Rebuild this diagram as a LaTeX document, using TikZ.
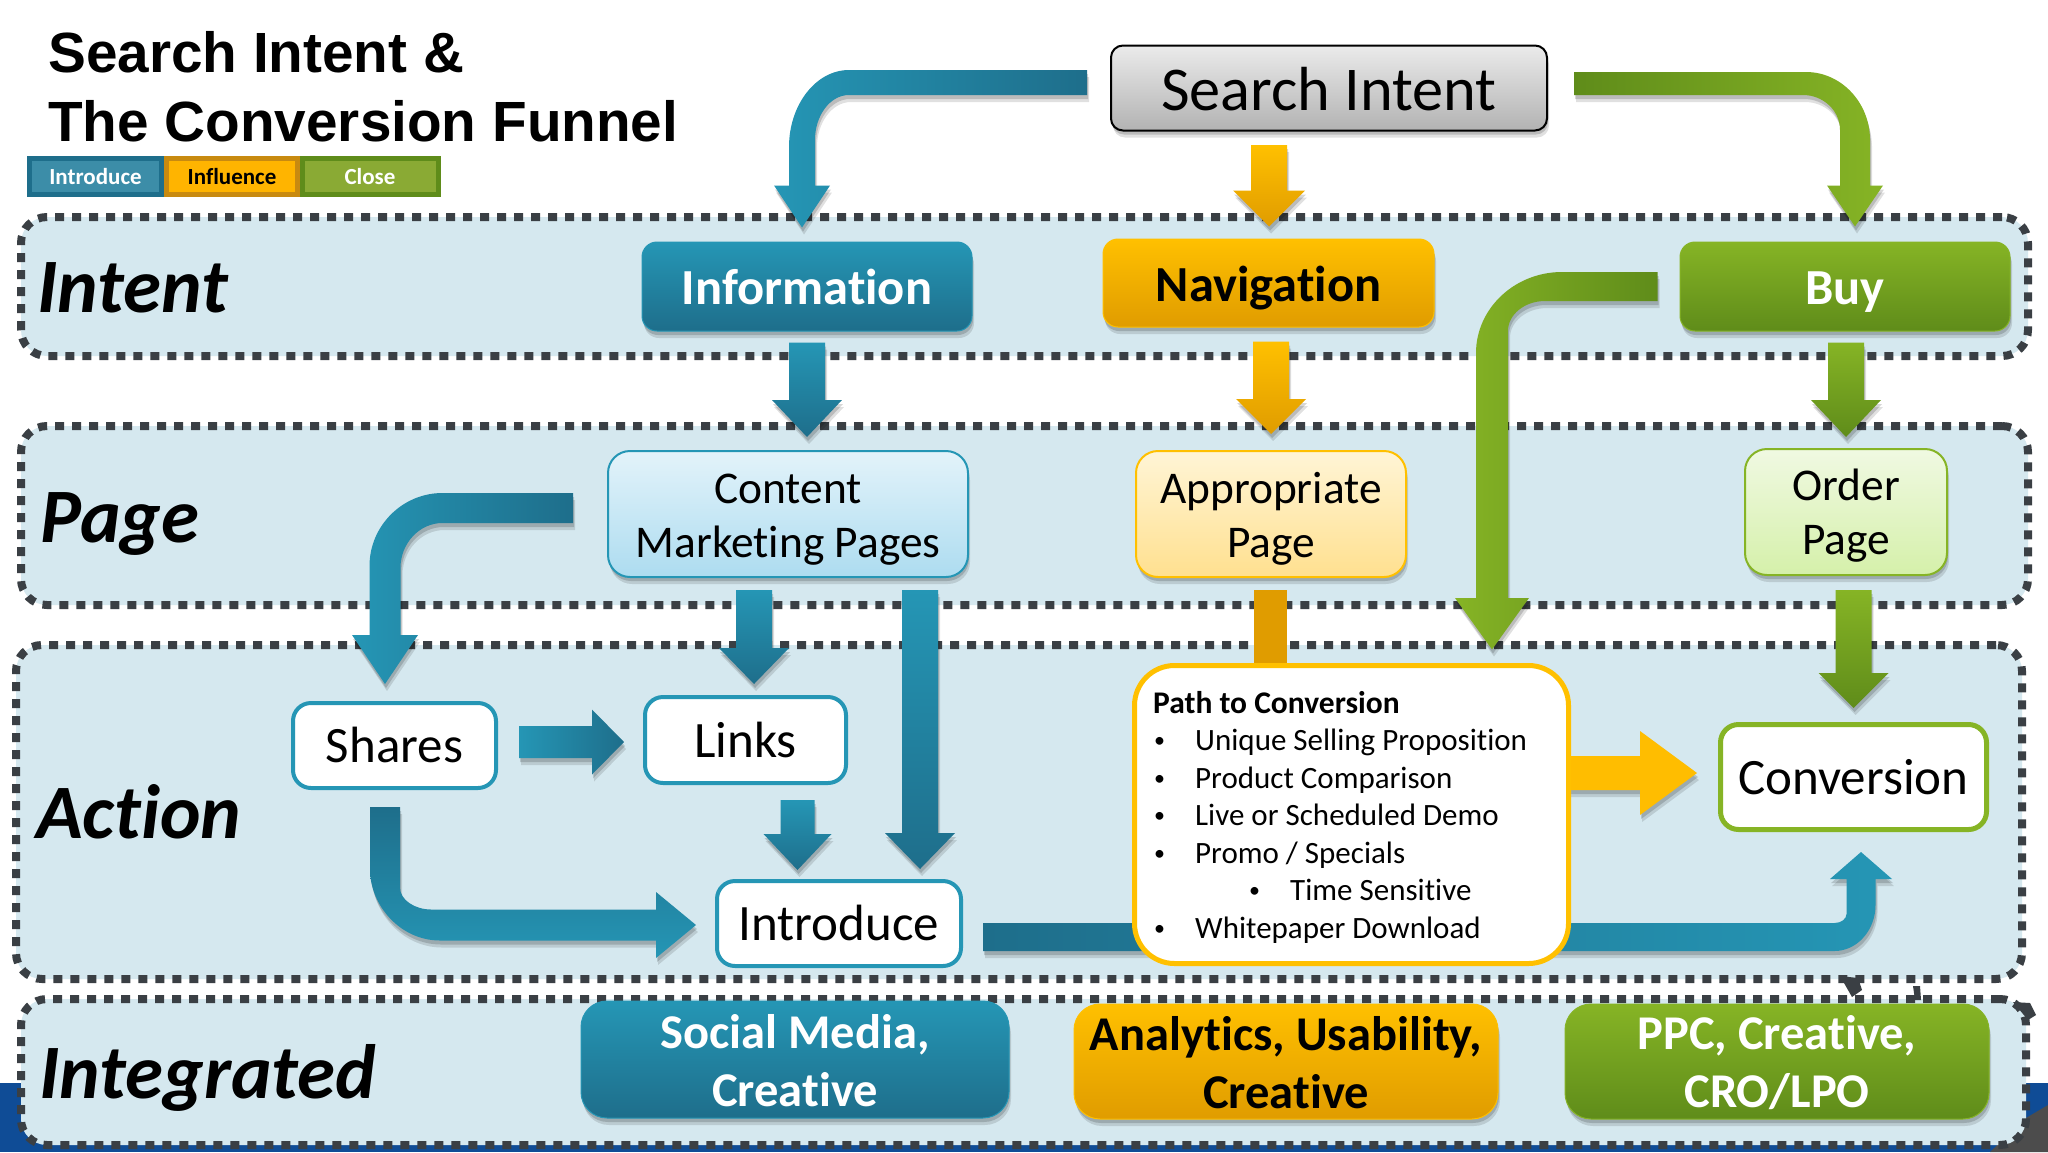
\documentclass[tikz,border=0pt]{standalone}
\usepackage{fontspec}
\setmainfont[Ligatures={NoCommon}]{Carlito}
\newfontfamily\arialfont{Liberation Sans}
\usetikzlibrary{calc,shadows}
\definecolor{tealL}{HTML}{2596B5}
\definecolor{tealD}{HTML}{1E6E8B}
\definecolor{amberL}{HTML}{FFC000}
\definecolor{amberD}{HTML}{E09C00}
\definecolor{greenL}{HTML}{86B425}
\definecolor{greenD}{HTML}{5F8C1A}
\definecolor{bandfill}{HTML}{D5E8EF}
\definecolor{banddash}{HTML}{3A3F44}
\definecolor{deepblue}{HTML}{0F4C96}
\definecolor{cA}{HTML}{E3F3FA}\definecolor{cB}{HTML}{ADDCF0}
\definecolor{cC}{HTML}{FFF5D6}\definecolor{cD}{HTML}{FFE08F}
\definecolor{cE}{HTML}{F0F9E2}\definecolor{cF}{HTML}{D5F0AA}
\definecolor{legT}{HTML}{3C8DA8}\definecolor{legG}{HTML}{8AAA34}
\definecolor{legA}{HTML}{FFB400}\definecolor{legAD}{HTML}{C88A10}
\pgfdeclarelayer{bandlayer}\pgfdeclarelayer{arrowlayer}
\pgfsetlayers{bandlayer,arrowlayer,main}
\newcommand\pb{\makebox[42pt][l]{\hspace{1pt}\raisebox{3pt}{\fontsize{22}{22}\selectfont•}}}
\tikzset{
 x=1pt,y=-1pt,
 softshadow/.style={drop shadow={shadow xshift=2pt,shadow yshift=-7pt,opacity=.12,fill=black},drop shadow={shadow xshift=1pt,shadow yshift=-4pt,opacity=.16,fill=black}},
 band/.style={draw=banddash,fill=bandfill,line width=8pt,dash pattern=on 9pt off 8pt,rounded corners=26pt,inner sep=0pt},
 bandlabel/.style={font=\fontsize{77}{77}\selectfont\bfseries\itshape,anchor=base west,inner sep=0pt},
 titleline/.style={font=\arialfont\bfseries\fontsize{56.7}{56.7}\selectfont,anchor=base west,inner sep=0pt},
 boxbase/.style={rectangle,rounded corners=#1,inner sep=0pt,align=center},
 solidbox/.style n args={2}{boxbase=15pt,softshadow,top color=#1,bottom color=#2,draw=#1,line width=1pt},
 tealbox/.style={solidbox={tealL}{tealD},text=white},
 amberbox/.style={solidbox={amberL}{amberD},text=black},
 greenbox/.style={solidbox={greenL}{greenD},text=white},
 whitebox/.style={boxbase=18pt,fill=white,draw=#1,line width=4pt},
 pagebox/.style n args={3}{boxbase=22pt,softshadow,top color=#1,bottom color=#2,draw=#3,line width=2pt},
 legendcell/.style n args={2}{rectangle,inner sep=0pt,minimum height=36pt,fill=#1,draw=#2,line width=5pt,font=\fontsize{23}{23}\selectfont\bfseries},
 pathline/.style={anchor=base west,inner sep=0pt,font=\fontsize{31}{31}\selectfont},
 onebig/.style={text depth=15pt,text height=51pt,font=\fontsize{50.5}{50.5}\selectfont\bfseries},
 onereg/.style={text depth=15pt,text height=49pt,font=\fontsize{51}{51}\selectfont},
 twopage/.style={font=\fontsize{45.4}{54}\selectfont},
 twobig/.style={font=\fontsize{48.5}{58}\selectfont\bfseries},
 tealV/.style={softshadow,top color=tealL,bottom color=tealD},
 amberV/.style={softshadow,top color=amberL,bottom color=amberD},
 greenV/.style={softshadow,top color=greenL,bottom color=greenD},
 tealH/.style={softshadow,left color=tealL,right color=tealD},
 tealFromD/.style={softshadow,left color=tealD,middle color=tealL,right color=tealL},
 tealToD/.style={softshadow,left color=tealL,middle color=tealL,right color=tealD},
 greenFromD/.style={softshadow,left color=greenD,middle color=greenL,right color=greenL},
 greenToD/.style={softshadow,left color=greenL,middle color=greenL,right color=greenD},
}
\newcommand\downblock[6]{\path[#1] let \p1=#2, \p2=#3 in
 (\x2-#4pt,\y1) -- (\x2+#4pt,\y1) -- (\x2+#4pt,\y2+#6pt) -- (\x2+#5pt,\y2+#6pt) -- (\x2,\y2)
 -- (\x2-#5pt,\y2+#6pt) -- (\x2-#4pt,\y2+#6pt) -- cycle;}
\newcommand\rightblock[6]{\path[#1] let \p1=#2, \p2=#3 in
 (\x1,\y2+#4pt) -- (\x1,\y2-#4pt) -- (\x2-#6pt,\y2-#4pt) -- (\x2-#6pt,\y2-#5pt) -- (\x2,\y2)
 -- (\x2-#6pt,\y2+#5pt) -- (\x2-#6pt,\y2+#4pt) -- cycle;}
% bent block arrow: style,start,tip,sx,sy,half horiz,half vert,outer rx,outer ry, then inner rx,inner ry,head half,head length
\newcommand\hvblock[9]{\tikzset{curbent/.style={#1}}\coordinate (hvS) at #2;\coordinate (hvE) at #3;\def\bsx{#4}\def\bsy{#5}\def\bha{#6}\def\bva{#7}\def\brox{#8}\def\broy{#9}\hvblockC}
\newcommand\hvblockC[4]{%
 \path[curbent] let \p1=(hvS), \p2=(hvE) in
 (\x1,\y1-\bsy*\bha pt)
 -- (\x2+\bsx*\bva pt-\bsx*\brox pt,\y1-\bsy*\bha pt)
 .. controls (\x2+\bsx*\bva pt-\bsx*0.45*\brox pt,\y1-\bsy*\bha pt) and (\x2+\bsx*\bva pt,\y1-\bsy*\bha pt+\bsy*0.45*\broy pt) .. (\x2+\bsx*\bva pt,\y1-\bsy*\bha pt+\bsy*\broy pt)
 -- (\x2+\bsx*\bva pt,\y2-\bsy*#4pt) -- (\x2+\bsx*#3pt,\y2-\bsy*#4pt) -- (\x2,\y2)
 -- (\x2-\bsx*#3pt,\y2-\bsy*#4pt) -- (\x2-\bsx*\bva pt,\y2-\bsy*#4pt)
 -- (\x2-\bsx*\bva pt,\y1+\bsy*\bha pt+\bsy*#2pt)
 .. controls (\x2-\bsx*\bva pt,\y1+\bsy*\bha pt+\bsy*0.45*#2pt) and (\x2-\bsx*\bva pt-\bsx*0.45*#1pt,\y1+\bsy*\bha pt) .. (\x2-\bsx*\bva pt-\bsx*#1pt,\y1+\bsy*\bha pt)
 -- (\x1,\y1+\bsy*\bha pt) -- cycle;}
\begin{document}
\begin{tikzpicture}
\useasboundingbox (0,0) rectangle (2048,1152);
\begin{pgfonlayer}{bandlayer}
\fill[white] (0,0) rectangle (2048,1152);
\fill[deepblue] (0,1083) rectangle (2048,1152);
\fill[black!70] (2026,1118) -- (2048,1105) -- (2048,1152) -- (1990,1152) -- cycle;
\node[band,minimum width=2007pt,minimum height=139pt] (intentband) at (1024.5,286.5) {};
\node[band,minimum width=2007pt,minimum height=179pt] (pageband) at (1024.5,515.5) {};
\node[band,minimum width=2006pt,minimum height=334pt] (actionband) at (1019,812) {};
\node[band,minimum width=2005pt,minimum height=146pt] (integratedband) at (1023.5,1072) {};
\fill[banddash] (1840,976) -- (1858,978) -- (1862,990) -- (1852,997) -- cycle;
\fill[banddash] (1913,986) -- (1920,986) -- (1921,1000) -- (1915,1000) -- cycle;
\fill[banddash] (2013,1002) -- (2030,1003) -- (2036,1015) -- (2028,1020) -- cycle;
\end{pgfonlayer}
\node[bandlabel] (lintent) at (37,312) {Intent};
\node[bandlabel] (lpage) at (40,542) {Page};
\node[bandlabel] (laction) at (36,838) {Action};
\node[bandlabel] (lintegrated) at (39,1098) {Integrated};
\node[titleline] (title1) at (48,72) {Search Intent \&};
\node[titleline] (title2) at (48,141) {The Conversion Funnel};
\node[legendcell={legT}{tealD},minimum width=132pt,text=white] (lg1) at (95.5,176.5) {Introduce};
\node[legendcell={legA}{legAD},minimum width=131pt,text=black] (lg2) at (232,176.5) {Influence};
\node[legendcell={legG}{greenD},minimum width=136pt,text=white] (lg3) at (370,176.5) {Close};
\node[boxbase=12pt,softshadow,top color=black!8,bottom color=black!30,draw=black,line width=2pt,minimum width=436pt,minimum height=85pt,text depth=15pt,text height=60pt,font=\fontsize{62.3}{62.3}\selectfont] (search) at (1329,88) {Search Intent};
\node[tealbox,minimum width=330pt,minimum height=89pt,onebig] (info) at (807,286.5) {Information};
\node[amberbox,minimum width=331pt,minimum height=88pt,onebig] (nav) at (1268.5,283) {Navigation};
\node[greenbox,minimum width=330pt,minimum height=89pt,onebig] (buy) at (1845,286.5) {Buy};
\node[pagebox={cA}{cB}{tealL},minimum width=360pt,minimum height=126pt,twopage] (content) at (788,514) {\rule{0pt}{40pt}Content\\Marketing Pages};
\node[pagebox={cC}{cD}{amberL},minimum width=270pt,minimum height=126pt,twopage] (approp) at (1271,514) {\rule{0pt}{40pt}Appropriate\\Page};
\node[pagebox={cE}{cF}{greenL},minimum width=202pt,minimum height=126pt,twopage] (order) at (1846,512) {\rule{0pt}{38pt}Order\\Page};
\node[whitebox=tealL,minimum width=203pt,minimum height=85pt,onereg] (shares) at (394.5,745.5) {Shares};
\node[whitebox=tealL,minimum width=201pt,minimum height=86pt,onereg] (links) at (745.5,740) {Links};
\node[whitebox=tealL,minimum width=244pt,minimum height=85pt,onereg] (intro) at (839,923.5) {Introduce};
\node[whitebox=greenL,line width=5pt,minimum width=266pt,minimum height=105pt,onereg] (conv) at (1853.5,777) {Conversion};
\node[whitebox=amberL,boxbase=40pt,line width=5pt,minimum width=434pt,minimum height=298pt] (path) at (1351.5,814.5) {};
\node[pathline,font=\fontsize{31.5}{31.5}\selectfont\bfseries] (p0) at (1153,713) {Path to Conversion};
\node[pathline] (p1) at (1153,750.5) {\pb Unique Selling Proposition};
\node[pathline] (p2) at (1153,788) {\pb Product Comparison};
\node[pathline] (p3) at (1153,825.5) {\pb Live or Scheduled Demo};
\node[pathline] (p4) at (1153,863) {\pb Promo / Specials};
\node[pathline] (p5) at (1248,900.5) {\pb Time Sensitive};
\node[pathline] (p6) at (1153,938) {\pb Whitepaper Download};
\node[tealbox,boxbase=26pt,minimum width=428pt,minimum height=117pt,twobig] (social) at (795,1059.5) {\rule{0pt}{36pt}Social Media,\\Creative};
\node[amberbox,boxbase=26pt,minimum width=424pt,minimum height=115pt,twobig] (analytics) at (1286,1061.5) {\rule{0pt}{36pt}Analytics, Usability,\\Creative};
\node[greenbox,boxbase=26pt,minimum width=424pt,minimum height=115pt,twobig] (ppc) at (1777,1061.5) {\rule{0pt}{36pt}PPC, Creative,\\CRO/LPO};
\begin{pgfonlayer}{arrowlayer}
\hvblock{tealToD}{($(search.west)+(-23,-5.5)$)}{($(info.north)+(-5,-14)$)}{-1}{-1}{12.5}{13}{60}{77}{34}{45}{28}{42}
\hvblock{greenFromD}{($(search.east)+(26,-4.5)$)}{($(buy.north)+(10,-15)$)}{1}{-1}{11.5}{15}{64}{68}{37}{35}{28}{41}
\hvblock{greenToD}{($(buy.west)+(-22,0)$)}{($(path.north)+(140.5,-13.5)$)}{-1}{-1}{14.5}{16}{86}{81}{37}{30}{37}{51.5}
\hvblock{tealToD}{($(content.west)+(-34,-6)$)}{($(shares.north)+(-9.5,-17)$)}{-1}{-1}{15}{15.5}{73}{73}{42}{45}{33}{49}
\hvblock{tealFromD}{($(intro.east)+(20,13.5)$)}{($(conv.south)+(7.5,20)$)}{1}{1}{14}{14.5}{41}{46}{12}{9}{31}{27}
\path[softshadow,top color=tealD,middle color=tealL,bottom color=tealL] let \p1=($(shares.south)+(-9.5,17)$), \p2=($(intro.west)+(-19,1.5)$) in
 (\x1-15pt,\y1) -- (\x1+15pt,\y1) -- (\x1+15pt,\y2+37.5pt)
 .. controls (\x1+15pt,\y2+25pt) and (\x1+30pt,\y2+15.5pt) .. (\x1+46pt,\y2+15.5pt)
 -- (\x2-40pt,\y2+15.5pt) -- (\x2-40pt,\y2+33pt) -- (\x2,\y2) -- (\x2-40pt,\y2-33pt) -- (\x2-40pt,\y2-15.5pt)
 -- (\x1+55pt,\y2-15.5pt) .. controls (\x1+15pt,\y2-15.5pt) and (\x1-15pt,\y2+20pt) .. (\x1-15pt,\y2+55.5pt) -- cycle;
\downblock{amberV}{($(search.south)+(-60,13.5)$)}{($(nav.north)+(0.5,-12)$)}{18}{36}{36}
\downblock{tealV}{($(info.south)+(0,11)$)}{($(content.north)+(19,-13)$)}{18}{35}{37}
\downblock{amberV}{($(nav.south)+(2.5,14)$)}{($(approp.north)+(0,-16)$)}{18}{35}{35}
\downblock{greenV}{($(buy.south)+(1,11)$)}{($(order.north)+(0,-11)$)}{18}{35}{37}
\downblock{tealV}{($(content.south)+(-34,12)$)}{($(links.north)+(8.5,-11)$)}{18}{35}{36}
\downblock{tealV}{($(content.south)+(132,12)$)}{($(intro.north)+(81,-10)$)}{18}{35}{36}
\downblock{tealV}{($(links.south)+(52,15)$)}{($(intro.north)+(-41.5,-9)$)}{17}{34}{36}
\downblock{greenV}{($(order.south)+(7.5,14)$)}{($(conv.north)+(0,-14)$)}{18}{35}{35}
\rightblock{tealH}{($(shares.east)+(21,-3.5)$)}{($(links.west)+(-19,2)$)}{16}{32.5}{32}
\rightblock{softshadow,fill=amberL!95!orange}{($(path.east)+(-5,-41.5)$)}{($(conv.west)+(-21,-4)$)}{17}{42}{57}
\draw[line width=33pt,amberD] ($(approp.south)+(-1,12)$) -- ($(path.north)+(-81.5,5)$);
\end{pgfonlayer}
\end{tikzpicture}
\end{document}
